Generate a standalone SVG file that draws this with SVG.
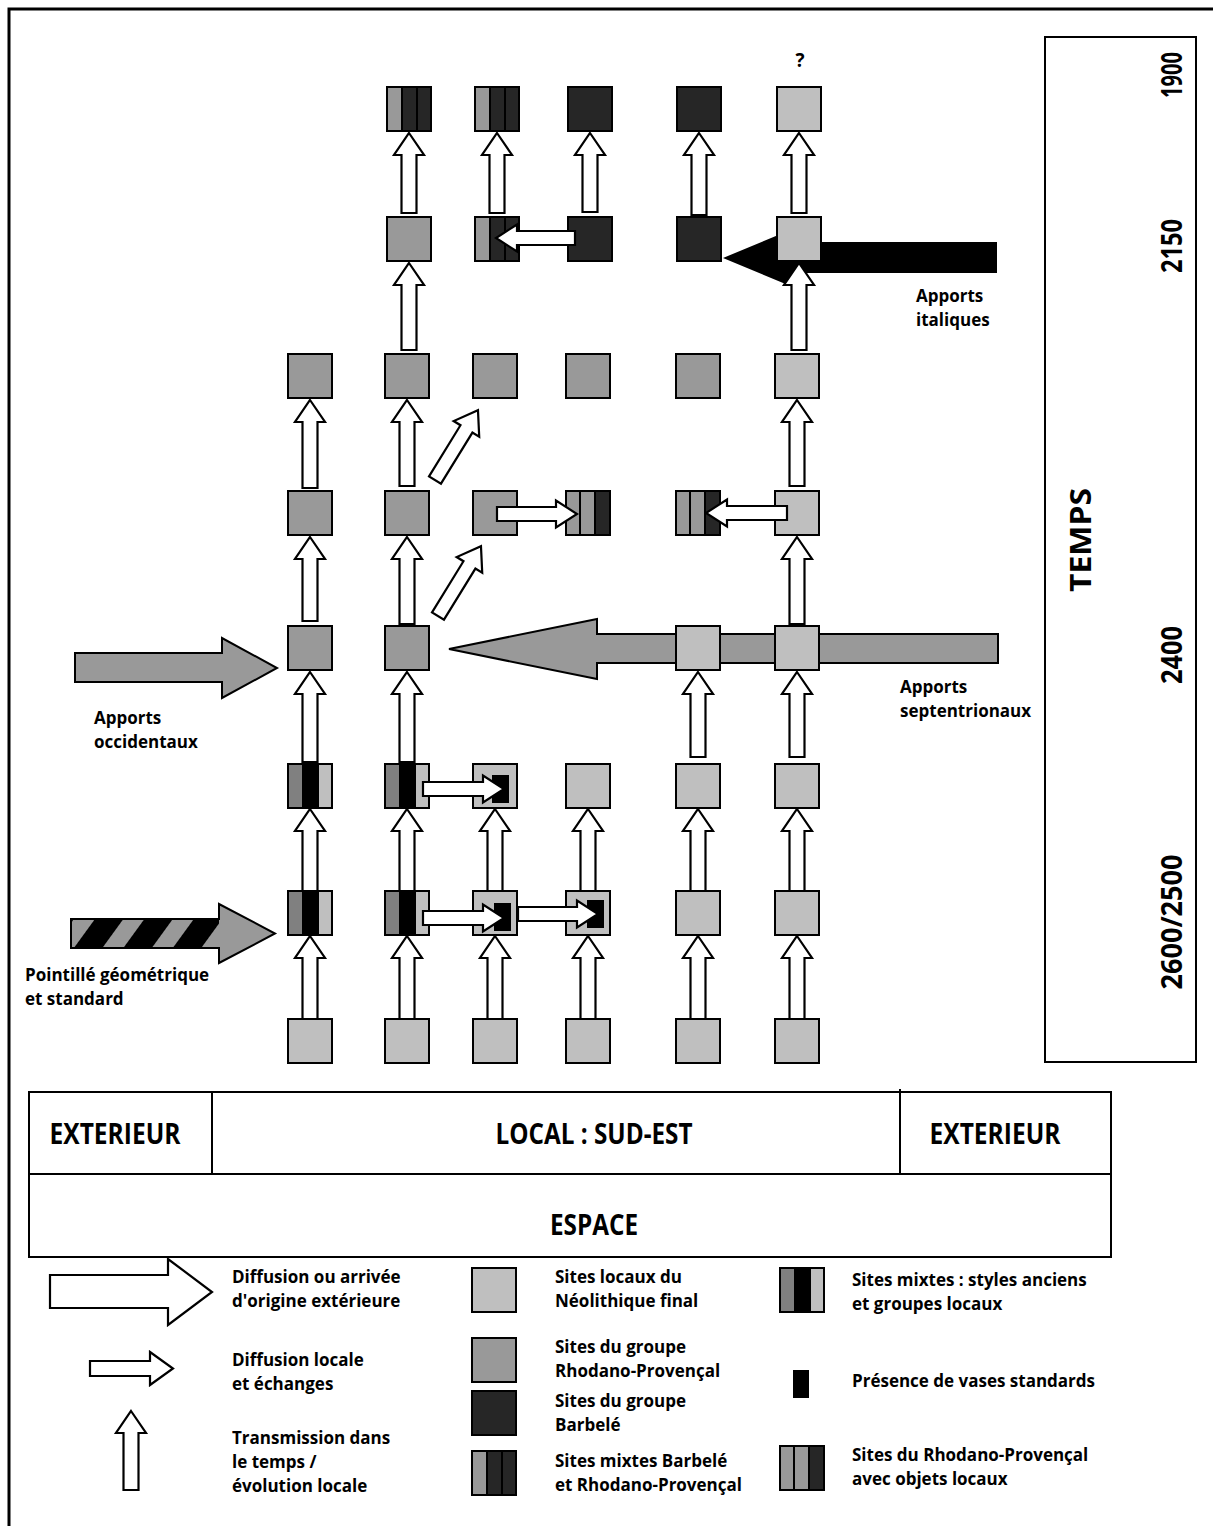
<svg xmlns="http://www.w3.org/2000/svg" xmlns:xlink="http://www.w3.org/1999/xlink" width="1213" height="1526" viewBox="0 0 1213 1526">
  <style>
    .sq { stroke: #000; stroke-width: 2; }
    .l { fill: #bfbfbf; }
    .m { fill: #999999; }
    .d { fill: #262626; }
    .arw { fill: #fff; stroke: #000; stroke-width: 2.2; stroke-linejoin: miter; }
    .big { stroke: #000; stroke-width: 2; stroke-linejoin: miter; }
    .box { fill: none; stroke: #000; stroke-width: 2; }
    .t { font-family: "Open Sans", "Liberation Sans", sans-serif; font-weight: 700; font-size: 17px; fill: #000; }
    .q { font-family: "Open Sans", "Liberation Sans", sans-serif; font-weight: 700; font-size: 19px; fill: #000; }
    .b { font-family: "Open Sans", "Liberation Sans", sans-serif; font-weight: 700; font-size: 28px; fill: #000; }
    .sep { stroke: #000; stroke-width: 2; }
  </style>
  <defs>
    <!-- mixed Barbelé / Rhodano-Provençal site -->
    <g id="mixBR">
      <rect x="0" y="0" width="15" height="44" class="m"/>
      <rect x="15" y="0" width="29" height="44" class="d"/>
      <line x1="15" y1="0" x2="15" y2="44" class="sep"/>
      <line x1="30" y1="0" x2="30" y2="44" class="sep"/>
      <rect x="0" y="0" width="44" height="44" fill="none" class="sq"/>
    </g>
    <!-- mixed site: old styles and local groups -->
    <g id="mixOld">
      <rect x="0" y="0" width="14" height="44" fill="#808080"/>
      <rect x="14" y="0" width="17" height="44" fill="#000"/>
      <rect x="31" y="0" width="13" height="44" class="l"/>
      <rect x="0" y="0" width="44" height="44" fill="none" class="sq"/>
    </g>
    <!-- Rhodano-Provençal site with local objects -->
    <g id="rpLoc">
      <rect x="0" y="0" width="29" height="44" class="m"/>
      <rect x="29" y="0" width="15" height="44" class="d"/>
      <line x1="14" y1="0" x2="14" y2="44" class="sep"/>
      <line x1="29" y1="0" x2="29" y2="44" class="sep"/>
      <rect x="0" y="0" width="44" height="44" fill="none" class="sq"/>
    </g>
    <pattern id="hatch" patternUnits="userSpaceOnUse" width="40" height="40" patternTransform="rotate(36)">
      <rect width="40" height="40" fill="#000"/>
      <rect width="17" height="40" fill="#999"/>
    </pattern>
  </defs>

  <rect x="0" y="0" width="1213" height="1526" fill="#fff"/>
  <!-- outer frame -->
  <rect x="9" y="9" width="1230" height="1540" fill="none" stroke="#000" stroke-width="3"/>

  <!-- large incoming flows (under the sites) -->
  <g id="flows">
    <path id="apports-septentrionaux" class="big" fill="#999" d="M998 634 H597 V619 L449 649 L597 679 V663 H998 Z"/>
    <path id="apports-italiques" fill="#000" d="M997 242 H800 V226 L723 258 L800 290 V273 H997 Z"/>
    <path id="apports-occidentaux" class="big" fill="#999" d="M75 653 H222 V638 L277 668 L222 698 V682 H75 Z"/>
    <g id="pointille">
      <rect x="71" y="919" width="148" height="29" fill="url(#hatch)"/>
      <path d="M219 904 L275 933.5 L219 963 Z" fill="#999"/>
      <path class="big" fill="none" d="M71 919 H219 V904 L275 933.5 L219 963 V948 H71 Z"/>
    </g>
  </g>

  <!-- sites -->
  <g id="sites">
    <!-- 1900 -->
    <g id="s-1900-2"><use href="#mixBR" x="387" y="87"/></g>
    <g id="s-1900-3"><use href="#mixBR" x="475" y="87"/></g>
    <g id="s-1900-4"><rect x="568" y="87" width="44" height="44" class="sq d"/></g>
    <g id="s-1900-5"><rect x="677" y="87" width="44" height="44" class="sq d"/></g>
    <g id="s-1900-6"><rect x="777" y="87" width="44" height="44" class="sq l"/></g>
    <!-- 2150 -->
    <g id="s-2150-2"><rect x="387" y="217" width="44" height="44" class="sq m"/></g>
    <g id="s-2150-3"><use href="#mixBR" x="475" y="217"/></g>
    <g id="s-2150-4"><rect x="568" y="217" width="44" height="44" class="sq d"/></g>
    <g id="s-2150-5"><rect x="677" y="217" width="44" height="44" class="sq d"/></g>
    <g id="s-2150-6"><rect x="777" y="217" width="44" height="44" class="sq l"/></g>
    <!-- row 3 -->
    <g id="s-r3-1"><rect x="288" y="354" width="44" height="44" class="sq m"/></g>
    <g id="s-r3-2"><rect x="385" y="354" width="44" height="44" class="sq m"/></g>
    <g id="s-r3-3"><rect x="473" y="354" width="44" height="44" class="sq m"/></g>
    <g id="s-r3-4"><rect x="566" y="354" width="44" height="44" class="sq m"/></g>
    <g id="s-r3-5"><rect x="676" y="354" width="44" height="44" class="sq m"/></g>
    <g id="s-r3-6"><rect x="775" y="354" width="44" height="44" class="sq l"/></g>
    <!-- row 4 -->
    <g id="s-r4-1"><rect x="288" y="491" width="44" height="44" class="sq m"/></g>
    <g id="s-r4-2"><rect x="385" y="491" width="44" height="44" class="sq m"/></g>
    <g id="s-r4-3"><rect x="473" y="491" width="44" height="44" class="sq m"/></g>
    <g id="s-r4-4"><use href="#rpLoc" x="566" y="491"/></g>
    <g id="s-r4-5"><use href="#rpLoc" x="676" y="491"/></g>
    <g id="s-r4-6"><rect x="775" y="491" width="44" height="44" class="sq l"/></g>
    <!-- 2400 -->
    <g id="s-2400-1"><rect x="288" y="626" width="44" height="44" class="sq m"/></g>
    <g id="s-2400-2"><rect x="385" y="626" width="44" height="44" class="sq m"/></g>
    <g id="s-2400-5"><rect x="676" y="626" width="44" height="44" class="sq l"/></g>
    <g id="s-2400-6"><rect x="775" y="626" width="44" height="44" class="sq l"/></g>
    <!-- row 6 -->
    <g id="s-r6-1"><use href="#mixOld" x="288" y="764"/></g>
    <g id="s-r6-2"><use href="#mixOld" x="385" y="764"/></g>
    <g id="s-r6-3"><rect x="473" y="764" width="44" height="44" class="sq l"/><rect x="492" y="775" width="17" height="28" fill="#000"/></g>
    <g id="s-r6-4"><rect x="566" y="764" width="44" height="44" class="sq l"/></g>
    <g id="s-r6-5"><rect x="676" y="764" width="44" height="44" class="sq l"/></g>
    <g id="s-r6-6"><rect x="775" y="764" width="44" height="44" class="sq l"/></g>
    <!-- 2600/2500 -->
    <g id="s-2600-1"><use href="#mixOld" x="288" y="891"/></g>
    <g id="s-2600-2"><use href="#mixOld" x="385" y="891"/></g>
    <g id="s-2600-3"><rect x="473" y="891" width="44" height="44" class="sq l"/><rect x="494" y="903" width="17" height="28" fill="#000"/></g>
    <g id="s-2600-4"><rect x="566" y="891" width="44" height="44" class="sq l"/><rect x="587" y="900" width="17" height="28" fill="#000"/></g>
    <g id="s-2600-5"><rect x="676" y="891" width="44" height="44" class="sq l"/></g>
    <g id="s-2600-6"><rect x="775" y="891" width="44" height="44" class="sq l"/></g>
    <!-- base row -->
    <g id="s-r8-1"><rect x="288" y="1019" width="44" height="44" class="sq l"/></g>
    <g id="s-r8-2"><rect x="385" y="1019" width="44" height="44" class="sq l"/></g>
    <g id="s-r8-3"><rect x="473" y="1019" width="44" height="44" class="sq l"/></g>
    <g id="s-r8-4"><rect x="566" y="1019" width="44" height="44" class="sq l"/></g>
    <g id="s-r8-5"><rect x="676" y="1019" width="44" height="44" class="sq l"/></g>
    <g id="s-r8-6"><rect x="775" y="1019" width="44" height="44" class="sq l"/></g>
  </g>

  <!-- transmission, diffusion and exchange arrows -->
  <g id="connectors">
    <!-- base row to 2600/2500 -->
    <path class="arw" d="M310 936 l15 22 h-7.5 V1019 h-15 V958 h-7.5 Z"/>
    <path class="arw" d="M407 936 l15 22 h-7.5 V1019 h-15 V958 h-7.5 Z"/>
    <path class="arw" d="M495 936 l15 22 h-7.5 V1019 h-15 V958 h-7.5 Z"/>
    <path class="arw" d="M588 936 l15 22 h-7.5 V1019 h-15 V958 h-7.5 Z"/>
    <path class="arw" d="M698 936 l15 22 h-7.5 V1019 h-15 V958 h-7.5 Z"/>
    <path class="arw" d="M797 936 l15 22 h-7.5 V1019 h-15 V958 h-7.5 Z"/>
    <!-- 2600/2500 to row 6 -->
    <path class="arw" d="M310 809 l15 22 h-7.5 V891 h-15 V831 h-7.5 Z"/>
    <path class="arw" d="M407 809 l15 22 h-7.5 V891 h-15 V831 h-7.5 Z"/>
    <path class="arw" d="M495 809 l15 22 h-7.5 V891 h-15 V831 h-7.5 Z"/>
    <path class="arw" d="M588 809 l15 22 h-7.5 V891 h-15 V831 h-7.5 Z"/>
    <path class="arw" d="M698 809 l15 22 h-7.5 V891 h-15 V831 h-7.5 Z"/>
    <path class="arw" d="M797 809 l15 22 h-7.5 V891 h-15 V831 h-7.5 Z"/>
    <!-- row 6 to 2400 -->
    <path class="arw" d="M310 672 l15 22 h-7.5 V762 h-15 V694 h-7.5 Z"/>
    <path class="arw" d="M407 672 l15 22 h-7.5 V762 h-15 V694 h-7.5 Z"/>
    <path class="arw" d="M698 672 l15 22 h-7.5 V757 h-15 V694 h-7.5 Z"/>
    <path class="arw" d="M797 672 l15 22 h-7.5 V757 h-15 V694 h-7.5 Z"/>
    <!-- 2400 to row 4 -->
    <path class="arw" d="M310 537 l15 22 h-7.5 V621 h-15 V559 h-7.5 Z"/>
    <path class="arw" d="M407 537 l15 22 h-7.5 V624 h-15 V559 h-7.5 Z"/>
    <path class="arw" d="M797 537 l15 22 h-7.5 V624 h-15 V559 h-7.5 Z"/>
    <!-- row 4 to row 3 -->
    <path class="arw" d="M310 400 l15 22 h-7.5 V488 h-15 V422 h-7.5 Z"/>
    <path class="arw" d="M407 400 l15 22 h-7.5 V486 h-15 V422 h-7.5 Z"/>
    <path class="arw" d="M797 400 l15 22 h-7.5 V486 h-15 V422 h-7.5 Z"/>
    <!-- row 3 to 2150 -->
    <path class="arw" d="M409 263 l15 22 h-7.5 V350 h-15 V285 h-7.5 Z"/>
    <path class="arw" d="M799 263 l15 22 h-7.5 V350 h-15 V285 h-7.5 Z"/>
    <!-- 2150 to 1900 -->
    <path class="arw" d="M409 133 l15 22 h-7.5 V213 h-15 V155 h-7.5 Z"/>
    <path class="arw" d="M497 133 l15 22 h-7.5 V213 h-15 V155 h-7.5 Z"/>
    <path class="arw" d="M590 133 l15 22 h-7.5 V212 h-15 V155 h-7.5 Z"/>
    <path class="arw" d="M699 133 l15 22 h-7.5 V215 h-15 V155 h-7.5 Z"/>
    <path class="arw" d="M799 133 l15 22 h-7.5 V213 h-15 V155 h-7.5 Z"/>
    <!-- diagonal diffusion -->
    <path class="arw" transform="translate(435 480) rotate(-58.4)" d="M0 -7 H60 V-15 L82 0 L60 15 V7 H0 Z"/>
    <path class="arw" transform="translate(438 616) rotate(-58.4)" d="M0 -7 H60 V-15 L82 0 L60 15 V7 H0 Z"/>
    <!-- local diffusion and exchanges -->
    <path class="arw" d="M575 231 H517 V224.5 L496 238 L517 251.5 V245 H575 Z"/>
    <path class="arw" d="M497 507 H556 V500.5 L577 514 L556 527.5 V521 H497 Z"/>
    <path class="arw" d="M787 506 H727 V499.5 L706 513 L727 526.5 V520 H787 Z"/>
    <path class="arw" d="M423 782 H483 V775.5 L504 789 L483 802.5 V796 H423 Z"/>
    <path class="arw" d="M423 911 H483 V904.5 L504 918 L483 931.5 V925 H423 Z"/>
    <path class="arw" d="M518 907 H577 V900.5 L598 914 L577 927.5 V921 H518 Z"/>
  </g>

  <!-- flow labels -->
  <g id="labels">
    <text class="q" x="800" y="67" text-anchor="middle">?</text>
    <text class="t" x="916" y="302">Apports</text>
    <text class="t" x="916" y="326">italiques</text>
    <text class="t" x="900" y="693">Apports</text>
    <text class="t" x="900" y="717">septentrionaux</text>
    <text class="t" x="94" y="724">Apports</text>
    <text class="t" x="94" y="748">occidentaux</text>
    <text class="t" x="25" y="981">Pointillé géométrique</text>
    <text class="t" x="25" y="1005">et standard</text>
  </g>

  <!-- time axis -->
  <g id="temps">
    <rect x="1045" y="37" width="151" height="1025" class="box"/>
    <text class="b" transform="translate(1091 540) rotate(-90)" text-anchor="middle" textLength="104" lengthAdjust="spacingAndGlyphs">TEMPS</text>
    <text class="b" transform="translate(1182 75) rotate(-90)" text-anchor="middle" textLength="46" lengthAdjust="spacingAndGlyphs">1900</text>
    <text class="b" transform="translate(1182 246) rotate(-90)" text-anchor="middle" textLength="54" lengthAdjust="spacingAndGlyphs">2150</text>
    <text class="b" transform="translate(1182 655) rotate(-90)" text-anchor="middle" textLength="58" lengthAdjust="spacingAndGlyphs">2400</text>
    <text class="b" transform="translate(1182 922) rotate(-90)" text-anchor="middle" textLength="135" lengthAdjust="spacingAndGlyphs">2600/2500</text>
  </g>

  <!-- space axis -->
  <g id="espace">
    <rect x="29" y="1092" width="1082" height="82" class="box"/>
    <rect x="29" y="1174" width="1082" height="83" class="box"/>
    <line x1="212" y1="1092" x2="212" y2="1174" class="sep"/>
    <line x1="900" y1="1089" x2="900" y2="1174" class="sep"/>
    <text class="b" x="115" y="1144" text-anchor="middle" textLength="131" lengthAdjust="spacingAndGlyphs">EXTERIEUR</text>
    <text class="b" x="594" y="1144" text-anchor="middle" textLength="197" lengthAdjust="spacingAndGlyphs">LOCAL : SUD-EST</text>
    <text class="b" x="995" y="1144" text-anchor="middle" textLength="131" lengthAdjust="spacingAndGlyphs">EXTERIEUR</text>
    <text class="b" x="594" y="1235" text-anchor="middle" textLength="88" lengthAdjust="spacingAndGlyphs">ESPACE</text>
  </g>

  <!-- legend -->
  <g id="legend">
    <g id="lg-ext">
      <path class="arw" d="M50 1275 H168 V1259 L212 1292 L168 1325 V1308 H50 Z"/>
      <text class="t" x="232" y="1283">Diffusion ou arrivée</text>
      <text class="t" x="232" y="1307">d'origine extérieure</text>
    </g>
    <g id="lg-local">
      <path class="arw" d="M90 1361 H150 V1352 L173 1368.5 L150 1385 V1376 H90 Z"/>
      <text class="t" x="232" y="1366">Diffusion locale</text>
      <text class="t" x="232" y="1390">et échanges</text>
    </g>
    <g id="lg-time">
      <path class="arw" d="M131 1411 l15 22 h-7.5 V1490 h-15 V1433 h-7.5 Z"/>
      <text class="t" x="232" y="1444">Transmission dans</text>
      <text class="t" x="232" y="1468">le temps /</text>
      <text class="t" x="232" y="1492">évolution locale</text>
    </g>
    <g id="lg-nf">
      <rect x="472" y="1268" width="44" height="44" class="sq l"/>
      <text class="t" x="555" y="1283">Sites locaux du</text>
      <text class="t" x="555" y="1307">Néolithique final</text>
    </g>
    <g id="lg-rp">
      <rect x="472" y="1338" width="44" height="44" class="sq m"/>
      <text class="t" x="555" y="1353">Sites du groupe</text>
      <text class="t" x="555" y="1377">Rhodano-Provençal</text>
    </g>
    <g id="lg-barb">
      <rect x="472" y="1391" width="44" height="44" class="sq d"/>
      <text class="t" x="555" y="1407">Sites du groupe</text>
      <text class="t" x="555" y="1431">Barbelé</text>
    </g>
    <g id="lg-mixbr">
      <use href="#mixBR" x="472" y="1451"/>
      <text class="t" x="555" y="1467">Sites mixtes Barbelé</text>
      <text class="t" x="555" y="1491">et Rhodano-Provençal</text>
    </g>
    <g id="lg-mixold">
      <use href="#mixOld" x="780" y="1268"/>
      <text class="t" x="852" y="1286">Sites mixtes : styles anciens</text>
      <text class="t" x="852" y="1310">et groupes locaux</text>
    </g>
    <g id="lg-vase">
      <rect x="793" y="1370" width="16" height="28" fill="#000"/>
      <text class="t" x="852" y="1387">Présence de vases standards</text>
    </g>
    <g id="lg-rploc">
      <use href="#rpLoc" x="780" y="1446"/>
      <text class="t" x="852" y="1461">Sites du Rhodano-Provençal</text>
      <text class="t" x="852" y="1485">avec objets locaux</text>
    </g>
  </g>
</svg>
